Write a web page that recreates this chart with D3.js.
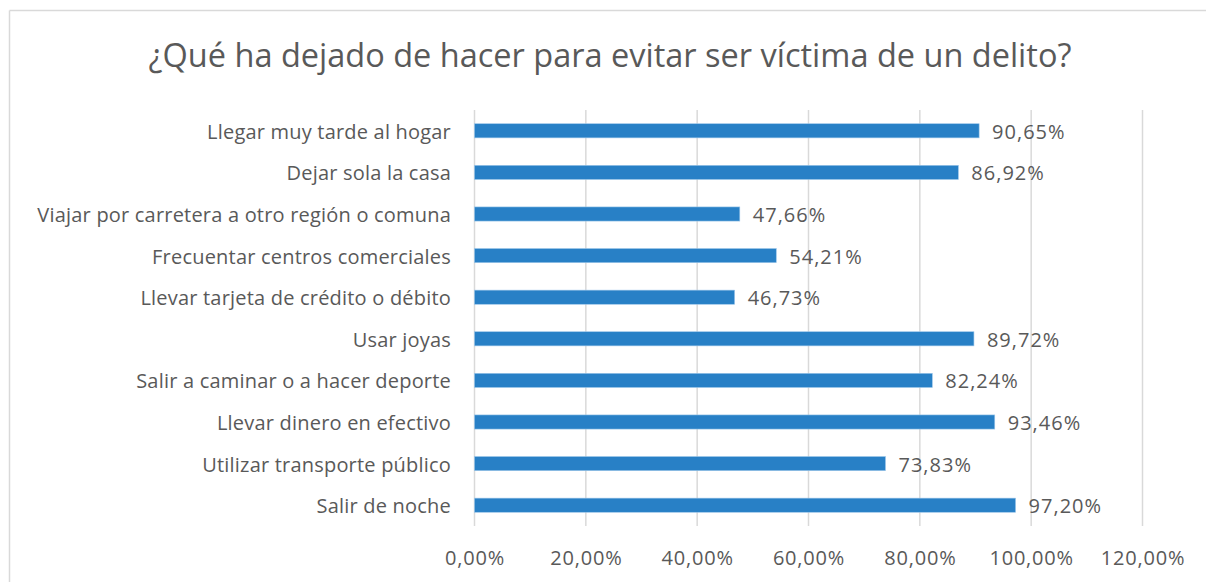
<!DOCTYPE html>
<html>
<head>
<meta charset="utf-8">
<script src="https://cdn.jsdelivr.net/npm/d3@7/dist/d3.min.js"></script>
<style>
  body { margin: 0; background: #fff; }
  text { font-family: "Open Sans", "Noto Sans", sans-serif; fill: #595959; }
</style>
</head>
<body>
<div id="chart-div"></div>
<script>
var categories = [
  "Llegar muy tarde al hogar",
  "Dejar sola la casa",
  "Viajar por carretera a otro región o comuna",
  "Frecuentar centros comerciales",
  "Llevar tarjeta de crédito o débito",
  "Usar joyas",
  "Salir a caminar o a hacer deporte",
  "Llevar dinero en efectivo",
  "Utilizar transporte público",
  "Salir de noche"
];
var values = [90.65, 86.92, 47.66, 54.21, 46.73, 89.72, 82.24, 93.46, 73.83, 97.20];
var tickValues = [0, 20, 40, 60, 80, 100, 120];
var chartTitle = "¿Qué ha dejado de hacer para evitar ser víctima de un delito?";

var props = {
  width: 1206,
  height: 582,
  marginTop: 110,
  marginBottom: 56,
  marginLeft: 474.5,
  marginRight: 63.5
}

var fmt = function(v){ return v.toFixed(2).replace(".", ",") + "%"; };

var svg = d3.select("#chart-div").append("svg").attr("width", props.width).attr("height", props.height);

// chart frame (top and left edges visible)
svg.append("line").attr("x1", 9.5).attr("x2", props.width).attr("y1", 10.5).attr("y2", 10.5)
  .style("stroke", "#d9d9d9").style("stroke-width", "1.5");
svg.append("line").attr("x1", 9.5).attr("x2", 9.5).attr("y1", 10.5).attr("y2", props.height)
  .style("stroke", "#d9d9d9").style("stroke-width", "1.5");

svg.append("text")
  .attr("x", 610).attr("y", 67)
  .attr("text-anchor", "middle")
  .style("font-size", "32.5px")
  .text(chartTitle);

var xScale = d3.scaleLinear().domain([0, 120]).range([props.marginLeft, props.width - props.marginRight]);
var yScale = d3.scaleBand().domain(categories).range([props.marginTop, props.height - props.marginBottom]).paddingInner(0.66).paddingOuter(0.33);

var g = svg.append("g");

g.selectAll(".grid")
  .data(tickValues)
  .enter()
  .append("line")
  .attr("class", "grid")
  .attr("x1", function(d){ return xScale(d); })
  .attr("x2", function(d){ return xScale(d); })
  .attr("y1", props.marginTop)
  .attr("y2", props.height - props.marginBottom)
  .style("stroke", "#d9d9d9")
  .style("stroke-width", "1.5");

var xAxis = d3.axisBottom(xScale).tickValues(tickValues).tickSize(0).tickPadding(0).tickFormat(function(d){ return fmt(d); });
var ax = svg.append("g").attr("transform", "translate(0," + (props.height - props.marginBottom) + ")").call(xAxis);
ax.select(".domain").remove();
ax.selectAll("text").attr("dy", "39px")
  .style("font-size", "20px").style("letter-spacing", "0.8px")
  .style("fill", "#595959").style("font-family", "'Open Sans', 'Noto Sans', sans-serif");

g.selectAll(".bar")
  .data(values)
  .enter()
  .append("rect")
  .attr("class", "bar")
  .attr("x", xScale(0))
  .attr("y", function(d, i){ return yScale(categories[i]); })
  .attr("width", function(d){ return xScale(d) - xScale(0); })
  .attr("height", yScale.bandwidth())
  .style("fill", "#2880c6")
  .style("stroke", "#9cc6ea")
  .style("stroke-width", "0.6");

g.selectAll(".value")
  .data(values)
  .enter()
  .append("text")
  .attr("class", "value")
  .attr("x", function(d){ return xScale(d) + 13; })
  .attr("y", function(d, i){ return yScale(categories[i]) + yScale.bandwidth() / 2; })
  .attr("dy", "0.4em")
  .style("font-size", "20px")
  .style("letter-spacing", "1px")
  .text(function(d){ return fmt(d); });

g.selectAll(".cat")
  .data(categories)
  .enter()
  .append("text")
  .attr("class", "cat")
  .attr("x", 451)
  .attr("y", function(d){ return yScale(d) + yScale.bandwidth() / 2; })
  .attr("dy", "0.4em")
  .attr("text-anchor", "end")
  .style("font-size", "20px")
  .style("letter-spacing", "0.2px")
  .text(function(d){ return d; });
</script>
</body>
</html>
